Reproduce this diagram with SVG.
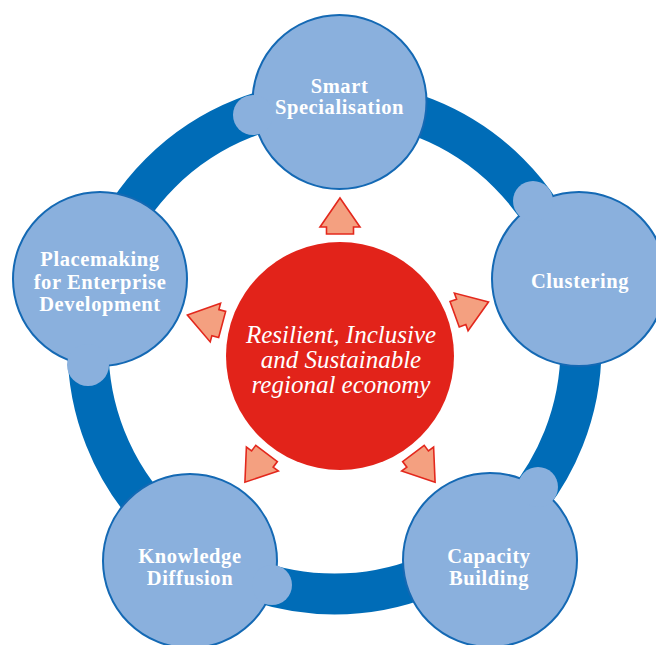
<svg xmlns="http://www.w3.org/2000/svg" width="656" height="645" viewBox="0 0 656 645">
<style>
.node{fill:#8AB0DD;stroke:#1469B4;stroke-width:2}
.bump{fill:#8AB0DD;stroke:none}
.lbl{font-family:"Liberation Serif","Times New Roman",serif;font-weight:bold;font-size:20.5px;letter-spacing:0.6px;fill:#FFFFFF;text-anchor:middle}
.ctr{font-family:"Liberation Serif","Times New Roman",serif;font-style:italic;font-size:25px;fill:#FFFFFF;text-anchor:middle}
.arr{fill:#F4A080;stroke:#E3281D;stroke-width:1.6;stroke-linejoin:miter}
</style>
<defs>
<polygon id="arrow" points="0,-158 20,-129 13.5,-129 13.5,-122 -13.5,-122 -13.5,-129 -20,-129"/>
</defs>
<rect width="656" height="645" fill="#FFFFFF"/>
<g id="connectors">
<circle id="ring" cx="334.5" cy="347.5" r="246.5" fill="none" stroke="#006CB7" stroke-width="41"/>
</g>
<g id="node-smart">
<circle class="node" cx="339.5" cy="102" r="87"/>
<circle class="bump" cx="253" cy="115" r="20"/>
<text class="lbl" x="339.5" y="92.5">Smart</text>
<text class="lbl" x="339.5" y="113.5">Specialisation</text>
</g>
<g id="node-clustering">
<circle class="node" cx="579" cy="279" r="87"/>
<circle class="bump" cx="533" cy="201" r="20"/>
<text class="lbl" x="580" y="288">Clustering</text>
</g>
<g id="node-capacity">
<circle class="node" cx="490" cy="560" r="87"/>
<circle class="bump" cx="538" cy="487" r="20"/>
<text class="lbl" x="489" y="563">Capacity</text>
<text class="lbl" x="489" y="585">Building</text>
</g>
<g id="node-knowledge">
<circle class="node" cx="190" cy="561" r="87"/>
<circle class="bump" cx="272" cy="585" r="20"/>
<text class="lbl" x="190" y="563">Knowledge</text>
<text class="lbl" x="190" y="585">Diffusion</text>
</g>
<g id="node-placemaking">
<circle class="node" cx="100" cy="279" r="87"/>
<circle class="bump" cx="88" cy="365" r="21"/>
<text class="lbl" x="100" y="266">Placemaking</text>
<text class="lbl" x="100" y="289">for Enterprise</text>
<text class="lbl" x="100" y="311">Development</text>
</g>
<g id="node-center">
<circle cx="340" cy="356" r="114" fill="#E2231A"/>
<text class="ctr" x="341" y="343">Resilient, Inclusive</text>
<text class="ctr" x="341" y="368">and Sustainable</text>
<text class="ctr" x="341" y="393">regional economy</text>
</g>
<g id="arrows">
<use href="#arrow" class="arr" transform="translate(340 356)"/>
<use href="#arrow" class="arr" transform="translate(340 356) rotate(70)"/>
<use href="#arrow" class="arr" transform="translate(340 356) rotate(143)"/>
<use href="#arrow" class="arr" transform="translate(340 356) rotate(217)"/>
<use href="#arrow" class="arr" transform="translate(340 356) rotate(285)"/>
</g>
</svg>
